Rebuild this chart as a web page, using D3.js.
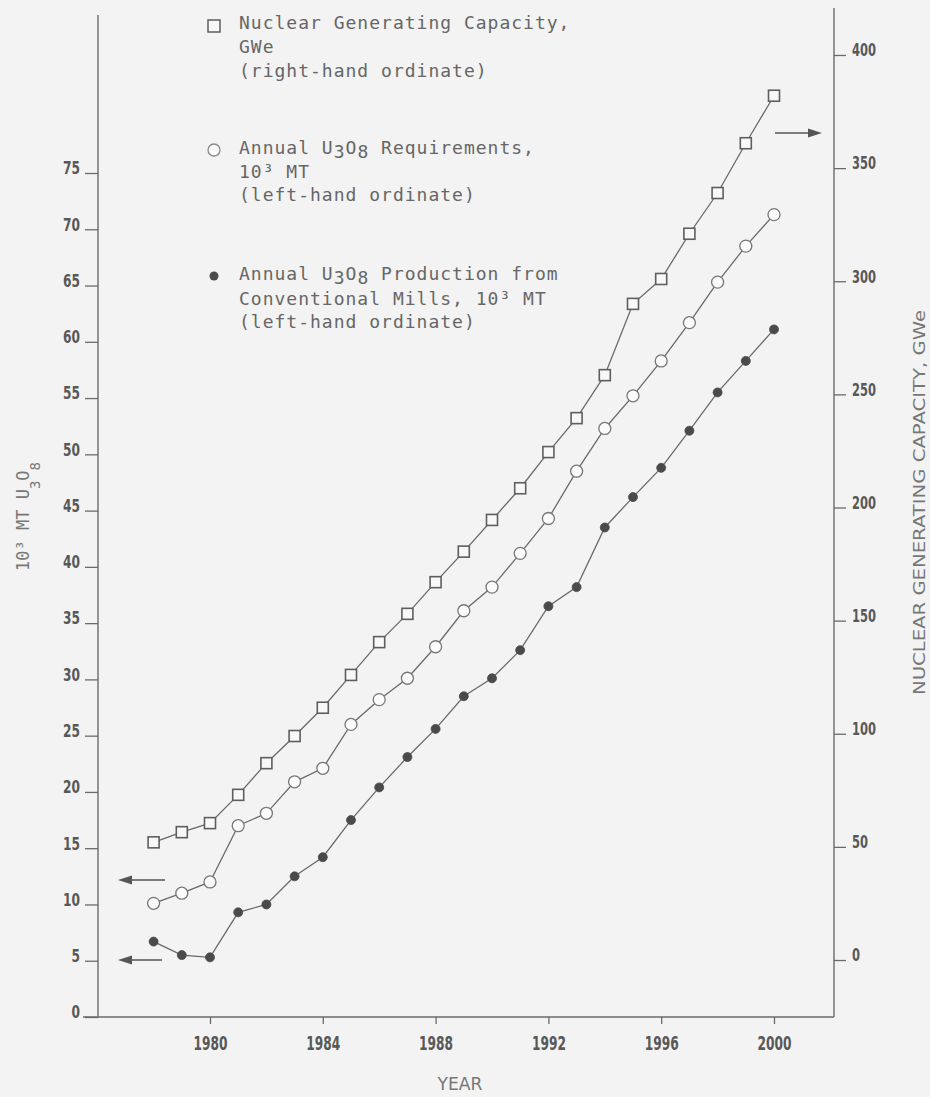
<!DOCTYPE html>
<html>
<head>
<meta charset="utf-8">
<script src="https://cdn.jsdelivr.net/npm/d3@7"></script>
<style>
  html, body { margin: 0; padding: 0; background: #f3f3f3; }
  svg { display: block; }
</style>
</head>
<body>
<div id="chart"></div>
<script>
// ---------------- DATA ----------------
const years = [1978, 1979, 1980, 1981, 1982, 1983, 1984, 1985, 1986, 1987, 1988, 1989,
               1990, 1991, 1992, 1993, 1994, 1995, 1996, 1997, 1998, 1999, 2000];
// Nuclear generating capacity, GWe (right-hand ordinate)
const capacity = [52, 56.5, 60.5, 73, 87, 99, 111.5, 126, 140.5, 153, 167, 180.5,
                  194.5, 208.5, 224.5, 239.5, 258.5, 290, 301, 321, 339, 361, 382];
// Annual U3O8 requirements, 10^3 MT (left-hand ordinate)
const requirements = [10.1, 11.0, 12.0, 17.0, 18.1, 20.9, 22.1, 26.0, 28.2, 30.1, 32.9, 36.1,
                      38.2, 41.2, 44.3, 48.5, 52.3, 55.2, 58.3, 61.7, 65.3, 68.5, 71.3];
// Annual U3O8 production from conventional mills, 10^3 MT (left-hand ordinate)
const production = [6.7, 5.5, 5.3, 9.3, 10.0, 12.5, 14.2, 17.5, 20.4, 23.1, 25.6, 28.5,
                    30.1, 32.6, 36.5, 38.2, 43.5, 46.2, 48.8, 52.1, 55.5, 58.3, 61.1];

const leftTicks = [0, 5, 10, 15, 20, 25, 30, 35, 40, 45, 50, 55, 60, 65, 70, 75];
const rightTicks = [0, 50, 100, 150, 200, 250, 300, 350, 400];
const xTicks = [1980, 1984, 1988, 1992, 1996, 2000];

// ---------------- LAYOUT ----------------
const W = 930, H = 1097;
const ink = "#6a6a6a";
const textInk = "#666";
const bg = "#f3f3f3";

const xLeftAxis = 98, xRightAxis = 834, yBottom = 1017;

const x = d3.scaleLinear().domain([1980, 2000]).range([210, 774]);
const yL = d3.scaleLinear().domain([0, 75]).range([yBottom, 173]);
const yR = d3.scaleLinear().domain([0, 400]).range([960, 55]);

const svg = d3.select("#chart").append("svg")
  .attr("width", W).attr("height", H);

svg.append("rect").attr("width", W).attr("height", H).attr("fill", bg);

// ---------------- AXES ----------------
const tickFont = "'DejaVu Sans', 'Liberation Sans', sans-serif";
function styleTickText(sel, perChar) {
  sel.selectAll("text")
    .attr("fill", "#585858")
    .style("font-family", tickFont)
    .style("font-weight", "bold")
    .style("font-size", "17px")
    .attr("textLength", function() { return this.textContent.length * perChar; })
    .attr("lengthAdjust", "spacingAndGlyphs");
  sel.selectAll("line").attr("stroke", ink).attr("stroke-width", 1.3);
  sel.select(".domain").remove();
}

const gL = svg.append("g").attr("transform", `translate(${xLeftAxis},0)`)
  .call(d3.axisLeft(yL).tickValues(leftTicks).tickSize(13).tickPadding(5).tickSizeOuter(0));
styleTickText(gL, 8.5);
gL.selectAll("text").attr("dy", "0.05em");

const gR = svg.append("g").attr("transform", `translate(${xRightAxis},0)`)
  .call(d3.axisRight(yR).tickValues(rightTicks).tickSize(12).tickPadding(6).tickSizeOuter(0));
styleTickText(gR, 8);
gR.selectAll("text").attr("dy", "0.05em");

const gB = svg.append("g").attr("transform", `translate(0,${yBottom})`)
  .call(d3.axisBottom(x).tickValues(xTicks).tickFormat(d3.format("d")).tickSize(7).tickPadding(13).tickSizeOuter(0));
styleTickText(gB, 8.5);
gB.selectAll("text").style("font-size", "19px");

// axis lines
svg.append("line").attr("x1", xLeftAxis).attr("x2", xLeftAxis).attr("y1", 15).attr("y2", yBottom)
  .attr("stroke", ink).attr("stroke-width", 1.4);
svg.append("line").attr("x1", xRightAxis).attr("x2", xRightAxis).attr("y1", 8).attr("y2", yBottom)
  .attr("stroke", ink).attr("stroke-width", 1.4);
svg.append("line").attr("x1", 83).attr("x2", xRightAxis).attr("y1", yBottom).attr("y2", yBottom)
  .attr("stroke", ink).attr("stroke-width", 1.4);

// axis titles
svg.append("text")
  .attr("transform", `translate(460,1090)`)
  .attr("text-anchor", "middle")
  .attr("fill", "#777")
  .style("font-family", "'DejaVu Sans', sans-serif")
  .style("font-size", "17px")
  .attr("textLength", 45).attr("lengthAdjust", "spacingAndGlyphs")
  .text("YEAR");

const lt = svg.append("text")
  .attr("transform", "translate(29,571) rotate(-90)")
  .attr("fill", "#777")
  .style("font-family", "'DejaVu Sans Mono', monospace")
  .style("font-size", "17px");
lt.append("tspan").text("10³ MT U");
lt.append("tspan").attr("dy", 11).style("font-size", "14px").text("3");
lt.append("tspan").attr("dy", -11).text("O");
lt.append("tspan").attr("dy", 11).style("font-size", "14px").text("8");

svg.append("text")
  .attr("transform", "translate(925,695) rotate(-90)")
  .attr("fill", "#777")
  .style("font-family", "'DejaVu Sans', sans-serif")
  .style("font-size", "16px")
  .attr("textLength", 385).attr("lengthAdjust", "spacingAndGlyphs")
  .text("NUCLEAR GENERATING CAPACITY, GWe");

// ---------------- SERIES ----------------
const capData = years.map((yr, i) => ({yr, v: capacity[i]}));
const reqData = years.map((yr, i) => ({yr, v: requirements[i]}));
const prodData = years.map((yr, i) => ({yr, v: production[i]}));

const lineR = d3.line().x(d => x(d.yr)).y(d => yR(d.v));
const lineL = d3.line().x(d => x(d.yr)).y(d => yL(d.v));

svg.append("path").datum(capData).attr("d", lineR)
  .attr("fill", "none").attr("stroke", ink).attr("stroke-width", 1.3);
svg.append("path").datum(reqData).attr("d", lineL)
  .attr("fill", "none").attr("stroke", ink).attr("stroke-width", 1.3);
svg.append("path").datum(prodData).attr("d", lineL)
  .attr("fill", "none").attr("stroke", ink).attr("stroke-width", 1.3);

const sq = 11;
svg.append("g").selectAll("rect").data(capData).join("rect")
  .attr("x", d => x(d.yr) - sq / 2).attr("y", d => yR(d.v) - sq / 2)
  .attr("width", sq).attr("height", sq)
  .attr("fill", "#f8f8f8").attr("stroke", "#5e5e5e").attr("stroke-width", 1.6);

svg.append("g").selectAll("circle").data(reqData).join("circle")
  .attr("cx", d => x(d.yr)).attr("cy", d => yL(d.v)).attr("r", 6)
  .attr("fill", "#fbfbfb").attr("stroke", "#777").attr("stroke-width", 1.3);

svg.append("g").selectAll("circle").data(prodData).join("circle")
  .attr("cx", d => x(d.yr)).attr("cy", d => yL(d.v)).attr("r", 4.5)
  .attr("fill", "#4a4a4a").attr("stroke", "#4a4a4a").attr("stroke-width", 0.8);

// ---------------- ARROWS ----------------
function arrow(x1, x2, y) {
  const dir = Math.sign(x2 - x1);
  const head = 14;
  svg.append("line").attr("x1", x1).attr("x2", x2 - dir * head + dir * 2).attr("y1", y).attr("y2", y)
    .attr("stroke", "#555").attr("stroke-width", 1.5);
  svg.append("path")
    .attr("d", `M${x2},${y} L${x2 - dir * head},${y - 4.5} L${x2 - dir * head},${y + 4.5} Z`)
    .attr("fill", "#555");
}
arrow(165, 118, 880);
arrow(162, 118, 960);
arrow(775, 822, 133);

// ---------------- LEGEND ----------------
const legFont = "'DejaVu Sans Mono', 'Liberation Mono', monospace";
const lx = 239;
function legLine(y, parts) {
  const t = svg.append("text").attr("x", lx).attr("y", y)
    .attr("fill", textInk)
    .style("font-family", legFont)
    .style("font-size", "18px")
    .style("letter-spacing", "1px")
    .attr("xml:space", "preserve");
  parts.forEach(p => {
    if (typeof p === "string") t.append("tspan").text(p);
    else t.append("tspan").attr("dy", p.dy).text(p.t);
  });
}
// markers
svg.append("rect").attr("x", 214 - 6).attr("y", 26 - 6).attr("width", 12).attr("height", 12)
  .attr("fill", "#f8f8f8").attr("stroke", "#5e5e5e").attr("stroke-width", 1.5);
svg.append("circle").attr("cx", 214).attr("cy", 150).attr("r", 6)
  .attr("fill", "#fbfbfb").attr("stroke", "#888").attr("stroke-width", 1.3);
svg.append("circle").attr("cx", 214).attr("cy", 276).attr("r", 4.5)
  .attr("fill", "#4a4a4a");

legLine(29, ["Nuclear Generating Capacity,"]);
legLine(53, ["GWe"]);
legLine(77, ["(right-hand ordinate)"]);

legLine(154, ["Annual U", {t: "3", dy: 4}, {t: "O", dy: -4}, {t: "8", dy: 4}, {t: " Requirements,", dy: -4}]);
legLine(178, ["10³ MT"]);
legLine(201, ["(left-hand ordinate)"]);

legLine(280, ["Annual U", {t: "3", dy: 4}, {t: "O", dy: -4}, {t: "8", dy: 4}, {t: " Production from", dy: -4}]);
legLine(305, ["Conventional Mills, 10³ MT"]);
legLine(328, ["(left-hand ordinate)"]);
</script>
</body>
</html>
